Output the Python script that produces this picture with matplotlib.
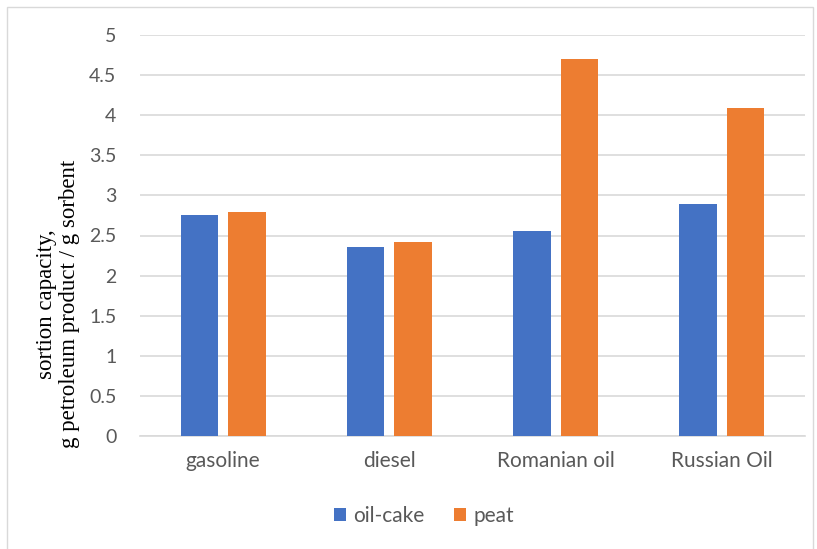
import matplotlib.pyplot as plt
import numpy as np
from matplotlib.patches import Rectangle

categories = ["gasoline", "diesel", "Romanian oil", "Russian Oil"]
oil_cake = [2.75, 2.36, 2.55, 2.89]
peat = [2.79, 2.42, 4.70, 4.09]
y_ticks = [0, 0.5, 1, 1.5, 2, 2.5, 3, 3.5, 4, 4.5, 5]
y_tick_labels = ["0", "0.5", "1", "1.5", "2", "2.5", "3", "3.5", "4", "4.5", "5"]

BLUE = "#4472c4"
ORANGE = "#ed7d31"
GRID = "#d9d9d9"
TEXT = "#595959"
W, H = 817, 549

fig = plt.figure(figsize=(W / 100, H / 100), dpi=100)
ax = fig.add_axes([140 / W, (H - 436) / H, 665 / W, 401 / H])

# chart frame
fig.patches.append(Rectangle((7 / W, -0.1), (W - 11) / W, (H - 7) / H + 0.1,
                             transform=fig.transFigure, fill=False,
                             edgecolor=GRID, linewidth=1))

x = np.arange(len(categories))
bar_w = 0.225
offset = bar_w / 2 + 0.03
ax.bar(x - offset, oil_cake, bar_w, color=BLUE, label="oil-cake", zorder=3)
ax.bar(x + offset, peat, bar_w, color=ORANGE, label="peat", zorder=3)

ax.set_xlim(-0.5, len(categories) - 0.5)
ax.set_ylim(0, 5)
ax.set_yticks(y_ticks)
ax.set_yticklabels(y_tick_labels, fontsize=14, color=TEXT, family="Lato")
ax.set_xticks(x)
ax.set_xticklabels(categories, fontsize=15, color=TEXT, family="Lato")
ax.tick_params(axis="both", length=0)
ax.tick_params(axis="y", pad=17)
ax.tick_params(axis="x", pad=11)

ax.grid(axis="y", color=GRID, linewidth=1.2, zorder=0)
for side in ["top", "right", "left"]:
    ax.spines[side].set_visible(False)
ax.spines["bottom"].set_color(GRID)
ax.spines["bottom"].set_linewidth(1.2)

ax.set_ylabel("sortion capacity,\ng petroleum product / g sorbent",
              fontsize=16.5, family="Liberation Serif", color="black",
              linespacing=1.15)
ax.yaxis.set_label_coords(-0.09, 0.33)

leg = fig.legend(loc="center", bbox_to_anchor=(424 / W, 1 - 516 / H), ncol=2,
                 frameon=False, handlelength=0.6, handleheight=0.6,
                 columnspacing=1.4, handletextpad=0.35,
                 prop={"family": "Lato", "size": 15})
for t in leg.get_texts():
    t.set_color(TEXT)

fig.savefig("out.png", dpi=100)
